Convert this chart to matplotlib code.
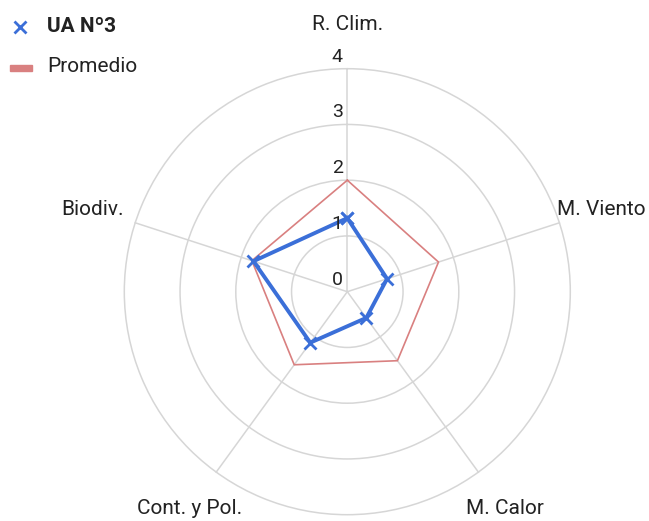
import numpy as np
import matplotlib.pyplot as plt

plt.rcParams['font.family'] = ['Roboto', 'DejaVu Sans']

# Ejes del radar y valores de cada serie
categorias = ["R. Clim.", "M. Viento", "M. Calor", "Cont. y Pol.", "Biodiv."]
ua_n3 = [1.32, 0.75, 0.58, 1.13, 1.77]
promedio = [2.0, 1.72, 1.53, 1.62, 1.8]
niveles = [0, 1, 2, 3, 4]

AZUL = "#3b6fd8"
ROJO = "#d98080"
GRIS = "#d6d6d6"

n = len(categorias)
angulos = np.linspace(0, 2 * np.pi, n, endpoint=False)
ang_cerrado = np.append(angulos, angulos[0])

fig = plt.figure(figsize=(6.49, 5.21), dpi=100)
ax = fig.add_axes([124.3 / 649, 6.3 / 521, 446 / 649, 446 / 521], projection="polar")
ax.set_theta_offset(np.pi / 2)
ax.set_theta_direction(-1)
ax.set_ylim(0, 4)

ax.spines["polar"].set_visible(False)
ax.set_rgrids([1, 2, 3, 4], labels=[""] * 4)
ax.set_thetagrids(np.degrees(angulos), labels=[""] * n)
ax.grid(color=GRIS, linewidth=1.1)
ax.tick_params(length=0)
for gl in ax.yaxis.get_gridlines() + ax.xaxis.get_gridlines():
    gl.set_clip_on(False)

# series
ax.plot(ang_cerrado, np.append(promedio, promedio[0]), color=ROJO, lw=1.2,
        clip_on=False, zorder=3)
ax.plot(ang_cerrado, np.append(ua_n3, ua_n3[0]), color=AZUL, lw=2.8,
        marker="x", ms=9, mew=2, clip_on=False, zorder=4)

# etiquetas de categorias
for a, c in zip(angulos, categorias):
    ax.text(a, 4.8, c, ha="center", va="center", fontsize=15, color="#222222")

# etiquetas del eje radial
for v in niveles:
    x, y = ax.transData.transform((0, v))
    fig.text((x - 10) / 649, (y + 12) / 521, str(v), ha="center", va="center",
             fontsize=14, color="#222222")

# leyenda
fig.lines.append(plt.Line2D([20 / 649], [1 - 27 / 521], transform=fig.transFigure,
                            marker="x", ms=8, mew=2, color=AZUL, linestyle="none"))
fig.text(47 / 649, 1 - 27 / 521, "UA N\u00ba3", ha="left", va="center",
         fontsize=15, fontweight="bold", color="#222222")
fig.patches.append(plt.Rectangle((10 / 649, 1 - 71 / 521), 22 / 649, 6 / 521,
                                 transform=fig.transFigure, color=ROJO))
fig.text(47 / 649, 1 - 67 / 521, "Promedio", ha="left", va="center",
         fontsize=15, color="#222222")

fig.savefig("out.png", dpi=100)
